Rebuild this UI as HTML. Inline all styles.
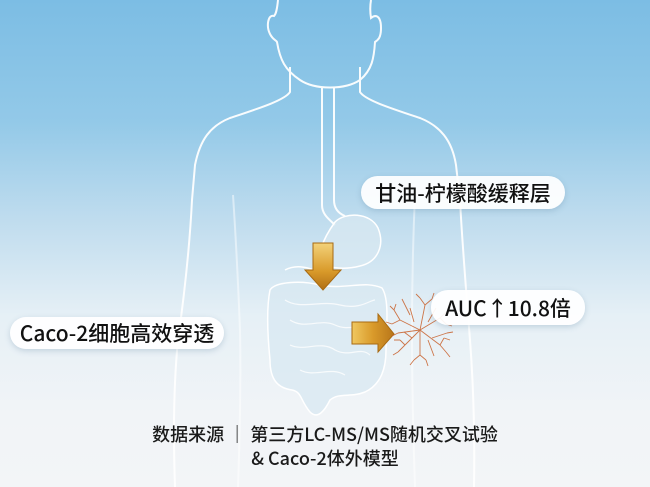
<!DOCTYPE html>
<html><head><meta charset="utf-8"><style>
html,body{margin:0;padding:0}
body{width:650px;height:487px;overflow:hidden;position:relative;font-family:"Liberation Sans","Noto Sans CJK SC",sans-serif;background:linear-gradient(180deg,#7cbde4 0%,#93c9e8 25%,#bfdcee 45%,#e6f0f6 65%,#f1f4f7 85%,#f3f5f7 100%)}
.pill{position:absolute;background:rgba(255,255,255,.93);border-radius:17px;box-shadow:0 2px 6px rgba(80,120,150,.25);color:#111;font-size:21px;font-weight:500;display:flex;align-items:center;justify-content:center;white-space:nowrap;font-family:"Noto Sans CJK SC",sans-serif}
.cap{position:absolute;left:0;width:650px;text-align:center;color:#1a1a1a;font-size:18px;font-family:"Noto Sans CJK SC",sans-serif;font-weight:500;line-height:24px}
</style></head><body>
<svg width="650" height="487" style="position:absolute;left:0;top:0" viewBox="0 0 650 487">
<defs>
<linearGradient id="ag" x1="0" x2="1"><stop offset="0" stop-color="#f0c860"/><stop offset=".5" stop-color="#d99a2a"/><stop offset="1" stop-color="#b8761a"/></linearGradient>
<linearGradient id="ag2" x1="0" y1="0" x2="0" y2="1"><stop offset="0" stop-color="#f3d27a"/><stop offset=".6" stop-color="#d99a2a"/><stop offset="1" stop-color="#b06f15"/></linearGradient>
</defs>
<g fill="none" stroke="#fff" stroke-width="2" opacity=".95">
<path d="M278 0 C277 10 276 14 274 16 C268 14 266 26 270 34 C273 40 276 40 277 42 C280 60 285 70 300 80 C315 90 345 90 360 80 C372 70 374 58 375 42 C378 40 381 38 381 28 C381 16 376 14 371 18 C370 12 370 6 371 0"/>
<path d="M290 67 L290 92 C285 100 260 108 230 118 C210 126 200 140 195 165 L192 200 C190 240 185 290 178 340 C174 380 173 430 175 487"/>
<path d="M360 67 L360 92 C365 100 390 108 420 118 C440 126 452 140 456 165 L460 200 C462 240 466 290 470 340 C473 380 475 430 474 487"/>
<path d="M233 195 C236 240 238 280 240 330 C241 380 240 430 238 487" opacity=".5"/>
<path d="M415 195 C413 240 412 280 412 330 C412 380 413 430 415 487" opacity=".5"/>
<path d="M322 88 L322 205 C322 215 330 220 335 225"/>
<path d="M334 88 L334 200 C334 210 340 214 345 216"/>
</g>
<g fill="#d8e8f1" fill-opacity=".75" stroke="#fff" stroke-width="1.5">
<path d="M335 222 C345 212 370 212 378 228 C385 245 378 262 360 266 C345 270 330 268 322 264 C316 258 322 240 335 222Z"/>
<path d="M270 290 C275 282 300 280 320 285 C345 290 365 280 382 288 C390 300 386 330 386 350 C386 370 380 385 365 392 C350 398 340 392 330 400 C325 410 318 420 310 412 C300 400 302 392 292 390 C278 388 270 380 270 360 C268 340 266 310 270 290Z"/>
<path d="M285 270 C300 262 320 270 330 282" fill="none"/>
</g>
<g fill="none" stroke="#fff" stroke-width="1.2" opacity=".8">
<path d="M285 300 C300 310 320 300 340 305 C360 310 370 300 375 300"/>
<path d="M290 320 C305 330 320 318 335 325 C350 332 360 322 370 330"/>
<path d="M290 345 C305 352 320 340 335 350 C350 358 360 346 370 355"/>
<path d="M300 370 C315 378 330 366 345 375"/>
</g>
<path d="M313 243 L333 243 L333 270 L341 270 L323 290 L305 270 L313 270Z" fill="url(#ag2)" stroke="#a86a12" stroke-width="1"/>
<path d="M352 322 L378 322 L378 314 L394 334 L378 352 L378 344 L352 344Z" fill="url(#ag)" stroke="#a86a12" stroke-width="1"/>
<g stroke="#c8602a" stroke-width="0.9" fill="none" opacity=".85">
<path d="M420 330 L400 320 M420 330 L405 345 M420 330 L425 305 M420 330 L440 318 M420 330 L440 345 M420 330 L420 355 M420 330 L398 333"/>
<path d="M400 320 L394 310 M400 320 L392 324 M425 305 L420 298 M425 305 L432 299 M440 318 L446 312 M440 318 L446 324 M440 345 L446 352 M440 345 L444 338 M420 355 L414 360 M420 355 L426 360 M405 345 L398 352 M405 345 L400 340 M410 315 L405 305 M432 338 L447 333"/>
<path d="M394 310 L390 306 M394 310 L396 304 M392 324 L386 322 M420 298 L416 294 M432 299 L434 293 M446 312 L452 310 M446 324 L452 326 M446 352 L450 357 M444 338 L450 340 M414 360 L410 365 M426 360 L428 366 M398 352 L393 355 M400 340 L394 340 M405 305 L402 299 M447 333 L453 332 M398 333 L392 336 M412 338 L404 332 M428 322 L436 308 M414 322 L410 308 M428 340 L434 356"/>
</g>
</svg>
<div class="pill" style="left:361px;top:176px;width:204px;height:33px">甘油-柠檬酸缓释层</div>
<div class="pill" style="left:431px;top:290px;width:154px;height:35px">AUC↑10.8倍</div>
<div class="pill" style="left:10px;top:317px;width:214px;height:32px">Caco-2细胞高效穿透</div>
<div class="cap" style="top:422px">数据来源 ｜ 第三方LC-MS/MS随机交叉试验</div>
<div class="cap" style="top:446px">&amp; Caco-2体外模型</div>
</body></html>
